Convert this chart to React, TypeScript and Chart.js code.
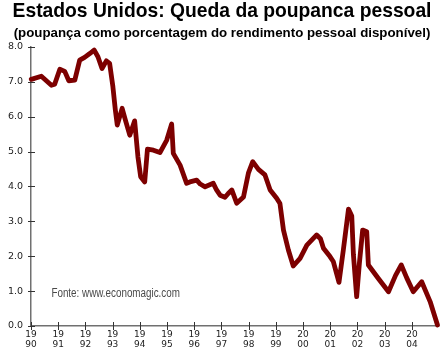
import React, { useEffect, useRef } from "react";
import { Chart, registerables } from "chart.js";

Chart.register(...registerables);

const titleText = "Estados Unidos: Queda da poupanca pessoal";
const subtitleText = "(poupança como porcentagem do rendimento pessoal disponível)";
const sourceText = "Fonte: www.economagic.com";

// decimal year of each observation
const dates = [
  1990.01, 1990.38, 1990.75, 1990.87, 1991.06, 1991.24, 1991.39, 1991.61, 1991.79, 1991.97,
  1992.16, 1992.32, 1992.46, 1992.61, 1992.77, 1992.89, 1993.01, 1993.1, 1993.17, 1993.35,
  1993.47, 1993.63, 1993.81, 1993.93, 1994.03, 1994.18, 1994.28, 1994.5, 1994.74, 1994.99,
  1995.17, 1995.23, 1995.48, 1995.72, 1995.84, 1996.09, 1996.22, 1996.4, 1996.7, 1996.82,
  1996.95, 1997.13, 1997.25, 1997.38, 1997.56, 1997.81, 1997.99, 1998.15, 1998.36, 1998.6,
  1998.79, 1999.03, 1999.15, 1999.28, 1999.46, 1999.64, 1999.89, 2000.14, 2000.5, 2000.64,
  2000.75, 2000.99, 2001.11, 2001.32, 2001.48, 2001.67, 2001.79, 2001.85, 2001.97, 2002.07,
  2002.19, 2002.34, 2002.4, 2002.76, 2003.14, 2003.4, 2003.61, 2003.81, 2004.05, 2004.36,
  2004.67, 2004.94,
];

// personal saving rate, % of disposable personal income
const rates = [
  7.07, 7.16, 6.9, 6.93, 7.36, 7.3, 7.03, 7.05, 7.62, 7.7,
  7.81, 7.91, 7.72, 7.38, 7.6, 7.53, 6.86, 6.19, 5.76, 6.24,
  5.9, 5.47, 5.88, 4.85, 4.28, 4.13, 5.07, 5.04, 4.97, 5.33,
  5.79, 4.95, 4.61, 4.09, 4.13, 4.18, 4.07, 3.99, 4.09, 3.9,
  3.75, 3.69, 3.8, 3.9, 3.52, 3.7, 4.38, 4.71, 4.49, 4.33,
  3.9, 3.66, 3.51, 2.75, 2.18, 1.72, 1.94, 2.32, 2.61, 2.5,
  2.23, 1.99, 1.85, 1.25, 2.18, 3.35, 3.15, 2.05, 0.84, 1.8,
  2.75, 2.7, 1.75, 1.37, 0.98, 1.45, 1.75, 1.38, 0.98, 1.27,
  0.7, 0.03,
];

const tickYears = [1990, 1991, 1992, 1993, 1994, 1995, 1996, 1997, 1998, 1999, 2000, 2001, 2002, 2003, 2004];
const tickLabels = ["1990", "1991", "1992", "1993", "1994", "1995", "1996", "1997", "1998", "1999", "2000", "2001", "2002", "2003", "2004"];
const yTicks = [0, 1, 2, 3, 4, 5, 6, 7, 8];
const xAxisEnd = 2005;
const xRangeMax = 2005.18;
const sourcePos = { x: 1990.75, y: 0.92 };

const crossTicks = {
  id: "crossTicks",
  beforeDatasetsDraw(chart: any) {
    const { ctx } = chart;
    const x = chart.scales.x;
    const y = chart.scales.y;
    ctx.save();
    // redraw x axis line only up to its end value
    ctx.strokeStyle = "#fff";
    ctx.lineWidth = 4;
    ctx.beginPath();
    ctx.moveTo(x.getPixelForValue(xAxisEnd), y.bottom);
    ctx.lineTo(chart.width, y.bottom);
    ctx.stroke();
    ctx.strokeStyle = "#333";
    ctx.lineWidth = 1;
    ctx.beginPath();
    x.ticks.forEach((t: any) => {
      const px = Math.round(x.getPixelForValue(t.value)) + 0.5;
      ctx.moveTo(px, y.bottom - 4);
      ctx.lineTo(px, y.bottom + 4);
    });
    y.ticks.forEach((t: any) => {
      const py = Math.round(y.getPixelForValue(t.value)) + 0.5;
      ctx.moveTo(x.left - 3, py);
      ctx.lineTo(x.left + 4, py);
    });
    ctx.stroke();
    ctx.fillStyle = "#4a4a4a";
    ctx.font = '12px "Liberation Sans", Arial, sans-serif';
    ctx.textBaseline = "middle";
    ctx.textAlign = "left";
    const sx = x.getPixelForValue(sourcePos.x);
    const sy = y.getPixelForValue(sourcePos.y);
    ctx.translate(sx, sy);
    ctx.scale(0.82, 1);
    ctx.fillText(sourceText, 0, 0);
    ctx.restore();
  },
};

export default function App() {
  const ref = useRef<HTMLCanvasElement | null>(null);
  useEffect(() => {
    if (!ref.current) return;
    const chart = new Chart(ref.current, {
      type: "line",
      data: {
        datasets: [
          {
            data: dates.map((d, i) => ({ x: d, y: rates[i] })),
            borderColor: "#7d0000",
            borderWidth: 4.8,
            pointRadius: 0,
            tension: 0,
            borderJoinStyle: "round",
            borderCapStyle: "round",
            clip: false as any,
          },
        ],
      },
      options: {
        animation: false,
        responsive: false,
        layout: { padding: { left: 0, right: 0, top: 0, bottom: 0 } },
        plugins: {
          legend: { display: false },
          tooltip: { enabled: false },
          title: {
            display: true,
            text: titleText,
            color: "#000",
            font: { family: '"Liberation Sans", Arial, sans-serif', size: 19.3, weight: "bold", lineHeight: 1.2 },
            padding: { top: 0, bottom: 0 },
          },
          subtitle: {
            display: true,
            text: subtitleText,
            color: "#000",
            font: { family: '"Liberation Sans", Arial, sans-serif', size: 13.3, weight: "bold", lineHeight: 1.2 },
            padding: { top: 1.8, bottom: 6 },
          },
        },
        scales: {
          x: {
            type: "linear",
            min: 1990,
            max: xRangeMax,
            afterBuildTicks: (s: any) => {
              s.ticks = tickYears.map((v) => ({ value: v }));
            },
            afterFit: (s: any) => {
              s.height = 37;
            },
            grid: { drawOnChartArea: false, drawTicks: false },
            border: { display: true, color: "#707070", width: 1.5 },
            ticks: {
              padding: 4,
              color: "#222",
              autoSkip: false,
              maxRotation: 0,
              font: { family: '"DejaVu Sans", Verdana, sans-serif', size: 9, lineHeight: 1.05 },
              callback: (v: any) => {
                const i = tickYears.indexOf(Number(v));
                if (i < 0) return "";
                const s = tickLabels[i];
                return [s.slice(0, 2), s.slice(2)];
              },
            },
          },
          y: {
            min: 0,
            max: 8,
            afterBuildTicks: (s: any) => {
              s.ticks = yTicks.map((v) => ({ value: v }));
            },
            afterFit: (s: any) => {
              s.width = 31;
            },
            grid: { drawOnChartArea: false, drawTicks: false },
            border: { display: true, color: "#707070", width: 1.5 },
            ticks: {
              padding: 8,
              color: "#222",
              font: { family: '"DejaVu Sans", Verdana, sans-serif', size: 9.5 },
              callback: (v: any) => Number(v).toFixed(1),
            },
          },
        },
      },
      plugins: [crossTicks],
    });
    return () => chart.destroy();
  }, []);
  return (
    <div style={{ position: "absolute", left: 0, top: 0, width: 444, height: 363, background: "#fff" }}>
      <canvas ref={ref} width={444} height={363} />
    </div>
  );
}
